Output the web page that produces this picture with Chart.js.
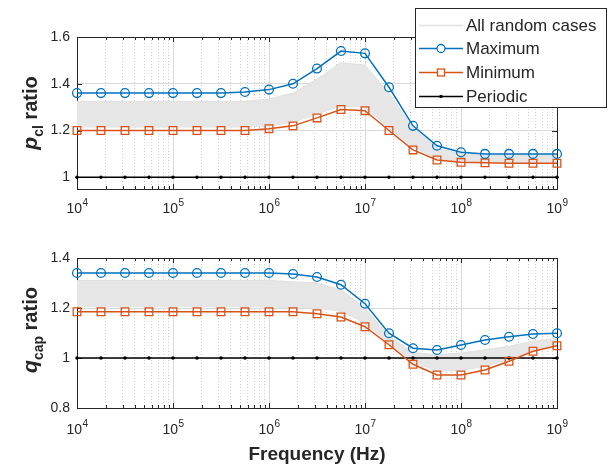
<!DOCTYPE html>
<html>
<head>
<meta charset="utf-8">
<script src="https://cdn.jsdelivr.net/npm/chart.js@4.4.1/dist/chart.umd.min.js"></script>
<style>
  html, body { margin: 0; padding: 0; background: #fff; }
  #wrap { position: relative; width: 612px; height: 466px; }
  canvas { position: absolute; left: 0; }
</style>
</head>
<body>
<div id="wrap">
  <canvas id="topChart" width="612" height="230" style="top:0"></canvas>
  <canvas id="botChart" width="612" height="236" style="top:230px"></canvas>
</div>
<script>
// frequency points (Hz), four per decade
const freqs = [1e4, 1.778e4, 3.162e4, 5.623e4, 1e5, 1.778e5, 3.162e5, 5.623e5, 1e6, 1.778e6,
  3.162e6, 5.623e6, 1e7, 1.778e7, 3.162e7, 5.623e7, 1e8, 1.778e8, 3.162e8, 5.623e8, 1e9];

// p_cl ratio (top panel)
const pclMax = [1.36, 1.36, 1.36, 1.36, 1.36, 1.36, 1.36, 1.365, 1.375, 1.40, 1.465,
  1.54, 1.53, 1.385, 1.22, 1.135, 1.107, 1.10, 1.10, 1.10, 1.10];
const pclMin = [1.20, 1.20, 1.20, 1.20, 1.20, 1.20, 1.20, 1.20, 1.208, 1.22, 1.254,
  1.29, 1.285, 1.20, 1.117, 1.074, 1.064, 1.062, 1.06, 1.06, 1.06];
const pclRandHigh = [1.325, 1.325, 1.325, 1.325, 1.325, 1.325, 1.325, 1.325, 1.335, 1.36, 1.42,
  1.49, 1.48, 1.36, 1.21, 1.125, 1.10, 1.095, 1.095, 1.095, 1.095];
const pclRandLow = [1.215, 1.215, 1.215, 1.215, 1.215, 1.215, 1.215, 1.215, 1.22, 1.235, 1.27,
  1.305, 1.30, 1.21, 1.13, 1.08, 1.07, 1.067, 1.065, 1.065, 1.065];

// q_cap ratio (bottom panel)
const qcapMax = [1.34, 1.34, 1.34, 1.34, 1.34, 1.34, 1.34, 1.34, 1.34, 1.336, 1.324,
  1.293, 1.217, 1.099, 1.039, 1.032, 1.052, 1.072, 1.085, 1.096, 1.099];
const qcapMin = [1.185, 1.185, 1.185, 1.185, 1.185, 1.185, 1.185, 1.185, 1.185, 1.185, 1.177,
  1.164, 1.125, 1.053, 0.975, 0.932, 0.932, 0.952, 0.987, 1.027, 1.049];
const qcapRandHigh = [1.31, 1.31, 1.31, 1.31, 1.31, 1.31, 1.31, 1.31, 1.31, 1.305, 1.30,
  1.273, 1.20, 1.087, 1.022, 1.013, 1.02, 1.033, 1.047, 1.067, 1.078];
const qcapRandLow = [1.205, 1.205, 1.205, 1.205, 1.205, 1.205, 1.205, 1.205, 1.205, 1.20, 1.20,
  1.186, 1.14, 1.06, 0.985, 0.947, 0.95, 0.967, 0.993, 1.033, 1.055];

const periodic = [1, 1, 1, 1, 1, 1, 1, 1, 1, 1, 1, 1, 1, 1, 1, 1, 1, 1, 1, 1, 1];

const pclTicks = [1, 1.2, 1.4, 1.6];
const qcapTicks = [0.8, 1, 1.2, 1.4];
const decades = [4, 5, 6, 7, 8, 9];

const BLUE = '#0072BD';
const ORANGE = '#D95319';
const GRAY_LINE = '#e0e0e0';
const GRAY_FILL = '#e6e6e6';
const AXIS = '#262626';
const FONT = '"Liberation Sans", Arial, Helvetica, sans-serif';

// x grid values: 1..9 x 10^n
const xGrid = [];
decades.forEach(n => {
  if (n === 9) { xGrid.push(1e9); return; }
  for (let m = 1; m <= 9; m++) xGrid.push(m * Math.pow(10, n));
});
const isDecade = v => Math.abs(Math.log10(v) - Math.round(Math.log10(v))) < 1e-6;

function toXY(ys) {
  return ys.map((y, i) => ({ x: freqs[i], y: y }));
}

function buildDatasets(maxArr, minArr, hiArr, loArr) {
  return [
    { label: 'Maximum', data: toXY(maxArr), borderColor: BLUE, borderWidth: 1.5,
      pointStyle: 'circle', pointRadius: 4.4, pointBorderWidth: 1.3,
      pointBackgroundColor: 'rgba(0,0,0,0)', pointBorderColor: BLUE, clip: false },
    { label: 'Minimum', data: toXY(minArr), borderColor: ORANGE, borderWidth: 1.5,
      pointStyle: 'rect', pointRadius: 5.4, pointBorderWidth: 1.3,
      pointBackgroundColor: 'rgba(0,0,0,0)', pointBorderColor: ORANGE, clip: false },
    { label: 'Periodic', data: toXY(periodic), borderColor: '#000', borderWidth: 1.6,
      pointStyle: 'circle', pointRadius: 1.8, pointBorderWidth: 0,
      pointBackgroundColor: '#000', clip: false },
    { label: 'All random cases', data: toXY(hiArr), borderColor: GRAY_LINE, borderWidth: 1,
      pointRadius: 0, fill: '+1', backgroundColor: GRAY_FILL },
    { label: 'rand-low', data: toXY(loArr), borderColor: GRAY_LINE, borderWidth: 1,
      pointRadius: 0, fill: false }
  ];
}

// box, inward ticks, x labels with exponents, y title
const matlabAxes = {
  id: 'matlabAxes',
  beforeDatasetsDraw(chart) {
    const ctx = chart.ctx;
    const a = chart.chartArea;
    const xs = chart.scales.x, ys = chart.scales.y;
    ctx.save();
    ctx.strokeStyle = AXIS;
    ctx.lineWidth = 1;
    ctx.beginPath();
    xGrid.forEach(v => {
      const px = Math.round(xs.getPixelForValue(v)) + 0.5;
      const len = isDecade(v) ? 5 : 3;
      ctx.moveTo(px, a.bottom); ctx.lineTo(px, a.bottom - len);
      ctx.moveTo(px, a.top); ctx.lineTo(px, a.top + len);
    });
    ys.ticks.forEach(t => {
      const py = Math.round(ys.getPixelForValue(t.value)) + 0.5;
      ctx.moveTo(a.left, py); ctx.lineTo(a.left + 5, py);
      ctx.moveTo(a.right, py); ctx.lineTo(a.right - 5, py);
    });
    ctx.stroke();
    ctx.strokeRect(Math.round(a.left) + 0.5, Math.round(a.top) + 0.5,
      Math.round(a.right - a.left), Math.round(a.bottom - a.top));
    ctx.restore();
  },
  afterDraw(chart, args, opts) {
    const ctx = chart.ctx;
    const xs = chart.scales.x;
    ctx.save();
    ctx.fillStyle = AXIS;
    ctx.textBaseline = 'alphabetic';
    decades.forEach(n => {
      const px = xs.getPixelForValue(Math.pow(10, n));
      ctx.font = '14px ' + FONT;
      const wb = ctx.measureText('10').width;
      ctx.font = '10px ' + FONT;
      const we = ctx.measureText(String(n)).width;
      const x0 = px - (wb + we) / 2;
      ctx.font = '14px ' + FONT;
      ctx.textAlign = 'left';
      ctx.fillText('10', x0, opts.labelY);
      ctx.font = '10px ' + FONT;
      ctx.fillText(String(n), x0 + wb + 0.5, opts.labelY - 7);
    });

    // rotated y title with subscript
    ctx.translate(opts.titleX, opts.titleY);
    ctx.rotate(-Math.PI / 2);
    const parts = [
      { t: opts.sym, f: 'italic bold 21px ' + FONT, dy: 0 },
      { t: opts.sub, f: 'bold 14px ' + FONT, dy: 6 },
      { t: ' ratio', f: 'bold 20px ' + FONT, dy: 0 }
    ];
    let total = 0;
    parts.forEach(p => { ctx.font = p.f; p.w = ctx.measureText(p.t).width; total += p.w; });
    let x = -total / 2;
    ctx.textAlign = 'left';
    parts.forEach(p => {
      ctx.font = p.f;
      ctx.fillText(p.t, x, p.dy);
      x += p.w;
    });
    ctx.restore();

    if (opts.xTitle) {
      ctx.save();
      ctx.fillStyle = AXIS;
      ctx.font = 'bold 19px ' + FONT;
      ctx.textAlign = 'center';
      ctx.fillText(opts.xTitle, (chart.chartArea.left + chart.chartArea.right) / 2, opts.xTitleY);
      ctx.restore();
    }
  }
};

// legend box drawn over the top panel
const boxLegend = {
  id: 'boxLegend',
  afterDraw(chart, args, opts) {
    if (!opts.show) return;
    const ctx = chart.ctx;
    ctx.save();
    ctx.fillStyle = '#fff';
    ctx.fillRect(415, 8, 191, 99);
    ctx.strokeStyle = AXIS;
    ctx.lineWidth = 1;
    ctx.strokeRect(415.5, 8.5, 191, 99);
    const rows = [
      { label: 'All random cases', color: GRAY_LINE, marker: null },
      { label: 'Maximum', color: BLUE, marker: 'circle' },
      { label: 'Minimum', color: ORANGE, marker: 'rect' },
      { label: 'Periodic', color: '#000', marker: 'dot' }
    ];
    const rowY = [25, 48, 72, 96];
    rows.forEach((r, i) => {
      const y = rowY[i] + 0.5;
      ctx.strokeStyle = r.color;
      ctx.lineWidth = 1.5;
      ctx.beginPath();
      ctx.moveTo(419, y); ctx.lineTo(463, y);
      ctx.stroke();
      ctx.lineWidth = 1.3;
      if (r.marker === 'circle') {
        ctx.fillStyle = '#fff';
        ctx.beginPath(); ctx.arc(441, y, 4, 0, Math.PI * 2); ctx.fill(); ctx.stroke();
      } else if (r.marker === 'rect') {
        ctx.fillStyle = '#fff';
        ctx.fillRect(437.5, y - 3.5, 7, 7);
        ctx.strokeRect(437.5, y - 3.5, 7, 7);
      } else if (r.marker === 'dot') {
        ctx.fillStyle = '#000';
        ctx.beginPath(); ctx.arc(441, y, 1.8, 0, Math.PI * 2); ctx.fill();
      }
      ctx.fillStyle = AXIS;
      ctx.font = '17px ' + FONT;
      ctx.textAlign = 'left';
      ctx.textBaseline = 'middle';
      ctx.fillText(r.label, 466, y + 1);
    });
    ctx.restore();
  }
};

function makeChart(id, cfg) {
  const canvas = document.getElementById(id);
  return new Chart(canvas, {
    type: 'line',
    data: { datasets: buildDatasets(cfg.max, cfg.min, cfg.hi, cfg.lo) },
    options: {
      responsive: false,
      animation: false,
      events: [],
      layout: { padding: { top: cfg.top, right: 55, left: 0, bottom: 0 } },
      plugins: {
        legend: { display: false },
        tooltip: { enabled: false },
        matlabAxes: cfg.axes,
        boxLegend: { show: cfg.legend }
      },
      scales: {
        x: {
          type: 'logarithmic',
          min: 1e4,
          max: 1e9,
          afterBuildTicks: s => { s.ticks = xGrid.map(v => ({ value: v, major: isDecade(v) })); },
          afterFit: s => { s.height = cfg.xHeight; },
          ticks: { display: false },
          grid: {
            drawTicks: false,
            color: c => (c.tick && isDecade(c.tick.value)) ? '#dadada' : '#cdcdcd',
            lineWidth: 1
          },
          border: {
            display: false,
            dash: c => (c.tick && !isDecade(c.tick.value)) ? [1, 2] : []
          }
        },
        y: {
          min: cfg.yMin,
          max: cfg.yMax,
          afterBuildTicks: s => { s.ticks = cfg.yTicks.map(v => ({ value: v })); },
          afterFit: s => { s.width = 77; },
          ticks: {
            padding: 7,
            color: AXIS,
            font: { family: FONT, size: 14 },
            callback: v => String(Math.round(v * 100) / 100)
          },
          grid: { drawTicks: false, color: '#dadada', lineWidth: 1 },
          border: { display: false }
        }
      }
    },
    plugins: [matlabAxes, boxLegend]
  });
}

makeChart('topChart', {
  max: pclMax, min: pclMin, hi: pclRandHigh, lo: pclRandLow,
  yMin: 0.95, yMax: 1.6, yTicks: pclTicks,
  top: 37, xHeight: 41, legend: true,
  axes: { labelY: 213, titleX: 37, titleY: 113, sym: 'p', sub: 'cl' }
});

makeChart('botChart', {
  max: qcapMax, min: qcapMin, hi: qcapRandHigh, lo: qcapRandLow,
  yMin: 0.8, yMax: 1.4, yTicks: qcapTicks,
  top: 28, xHeight: 58, legend: false,
  axes: { labelY: 204, titleX: 37, titleY: 100, sym: 'q', sub: 'cap',
    xTitle: 'Frequency (Hz)', xTitleY: 230 }
});
</script>
</body>
</html>
